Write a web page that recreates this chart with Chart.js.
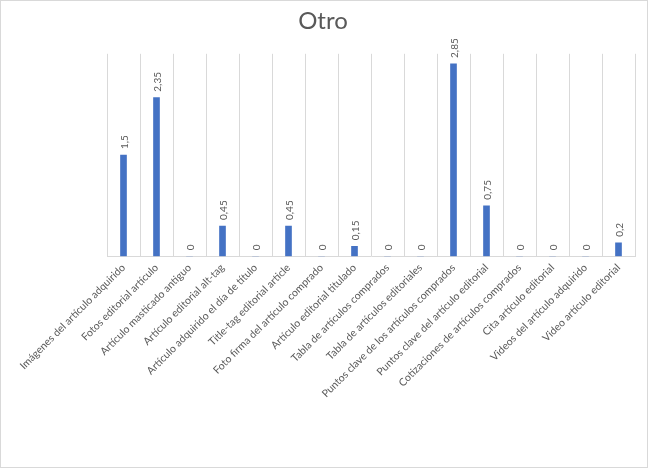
<!DOCTYPE html>
<html>
<head>
<meta charset="utf-8">
<script src="https://cdn.jsdelivr.net/npm/chart.js@4/dist/chart.umd.min.js"></script>
<style>
  html, body { margin: 0; padding: 0; background: #fff; }
  #wrap { width: 646px; height: 466px; border: 1px solid #d9d9d9; position: relative; }
  canvas { display: block; }
</style>
</head>
<body>
<div id="wrap"><canvas id="myChart" width="646" height="466"></canvas></div>
<script>
const categories = [
  "Imágenes del artículo adquirido",
  "Fotos editorial artículo",
  "Artículo masticado antiguo",
  "Artículo editorial alt-tag",
  "Artículo adquirido el día de título",
  "Title-tag editorial article",
  "Foto firma del artículo comprado",
  "Artículo editorial titulado",
  "Tabla de artículos comprados",
  "Tabla de artículos editoriales",
  "Puntos clave de los artículos comprados",
  "Puntos clave del artículo editorial",
  "Cotizaciones de artículos comprados",
  "Cita artículo editorial",
  "Videos del artículo adquirido",
  "Video artículo editorial"
];
const values = [1.5, 2.35, 0, 0.45, 0, 0.45, 0, 0.15, 0, 0, 2.85, 0.75, 0, 0, 0, 0.2];

const textColor = "#595959";
const fontFamily = "Lato, 'Open Sans', sans-serif";

// Rotated value labels above each bar
const valueLabels = {
  id: "valueLabels",
  afterDatasetsDraw(chart) {
    const ctx = chart.ctx;
    const meta = chart.getDatasetMeta(0);
    ctx.save();
    ctx.fillStyle = textColor;
    ctx.font = "10px " + fontFamily;
    ctx.textAlign = "left";
    ctx.textBaseline = "middle";
    meta.data.forEach((bar, i) => {
      const text = String(values[i]).replace(".", ",");
      ctx.save();
      ctx.translate(bar.x + 1, bar.y - 6);
      ctx.rotate(-Math.PI / 2);
      ctx.fillText(text, 0, 0);
      ctx.restore();
    });
    ctx.restore();
  }
};

const ctx = document.getElementById("myChart").getContext("2d");
new Chart(ctx, {
  type: "bar",
  data: {
    labels: categories,
    datasets: [
      {
        data: values,
        backgroundColor: "#4472c4",
        barThickness: 6
      }
    ]
  },
  options: {
    responsive: false,
    animation: false,
    layout: { padding: { left: 10, right: 12, top: 0, bottom: 62 } },
    plugins: {
      legend: { display: false },
      tooltip: { enabled: false },
      title: {
        display: true,
        text: "Otro",
        color: textColor,
        font: { family: fontFamily, size: 24, weight: "normal" },
        padding: { top: 6, bottom: 18 }
      }
    },
    scales: {
      x: {
        grid: { color: "#d9d9d9", drawTicks: false, offset: true },
        border: { color: "#d9d9d9" },
        ticks: {
          color: textColor,
          font: { family: fontFamily, size: 10.5 },
          maxRotation: 45,
          minRotation: 45,
          autoSkip: false,
          padding: 5
        },
        // push the plot area right without moving the title
        afterFit(scale) {
          scale.paddingLeft = Math.max(scale.paddingLeft, 106);
        }
      },
      y: {
        display: false,
        min: 0,
        max: 3
      }
    }
  },
  plugins: [valueLabels]
});
</script>
</body>
</html>
